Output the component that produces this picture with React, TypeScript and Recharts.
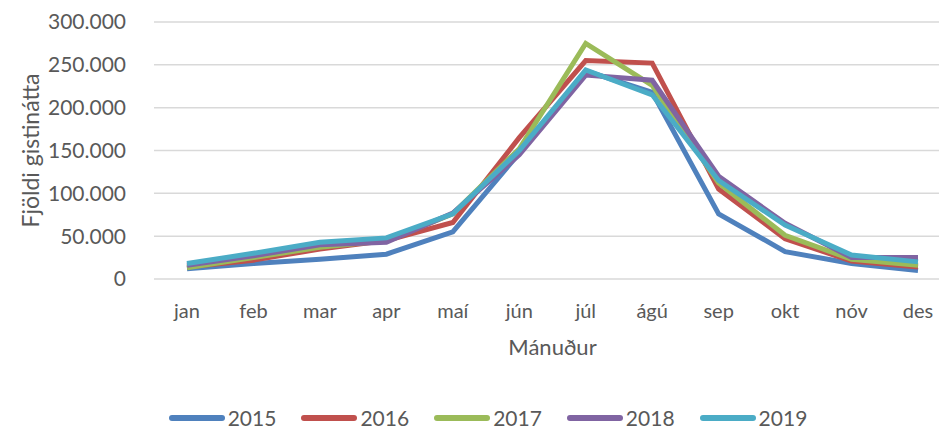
import { LineChart, Line, XAxis, YAxis, CartesianGrid, Legend } from 'recharts';

const months = ['jan', 'feb', 'mar', 'apr', 'maí', 'jún', 'júl', 'ágú', 'sep', 'okt', 'nóv', 'des'];

const y2015 = [12000, 18000, 23000, 29000, 55000, 147000, 243000, 218000, 76000, 32000, 18000, 10000];
const y2016 = [14000, 22000, 35000, 45000, 66000, 165000, 255000, 252000, 105000, 47000, 21000, 14000];
const y2017 = [13000, 25000, 37000, 45000, 76000, 152000, 275000, 226000, 112000, 51000, 23000, 16000];
const y2018 = [16000, 27000, 40000, 43000, 77000, 145000, 238000, 232000, 120000, 65000, 25000, 25000];
const y2019 = [18000, 30000, 43000, 48000, 76000, 150000, 244000, 215000, 115000, 63000, 28000, 20000];

const yTicks = [0, 50000, 100000, 150000, 200000, 250000, 300000];

const series = [
  { key: 'y2015', name: '2015', color: '#4F81BD' },
  { key: 'y2016', name: '2016', color: '#C0504D' },
  { key: 'y2017', name: '2017', color: '#9BBB59' },
  { key: 'y2018', name: '2018', color: '#8064A2' },
  { key: 'y2019', name: '2019', color: '#4BACC6' },
];

const chartData = months.map((m, i) => ({
  month: m,
  y2015: y2015[i],
  y2016: y2016[i],
  y2017: y2017[i],
  y2018: y2018[i],
  y2019: y2019[i],
}));

const FONT = 'Lato, "Open Sans", sans-serif';
const TEXT = '#595959';

function formatTick(v: number) {
  return v === 0 ? '0' : v.toLocaleString('de-DE');
}

function LegendContent({ payload }: any) {
  return (
    <div style={{ display: 'flex', justifyContent: 'center', paddingLeft: 37, fontFamily: FONT, fontSize: 21, lineHeight: '20px', height: 20, color: TEXT }}>
      {(payload || []).map((p: any, i: number) => (
        <div key={p.value} style={{ display: 'flex', alignItems: 'center', marginRight: i < 4 ? 25 : 0 }}>
          <svg width={56} height={10} style={{ marginRight: 3 }}>
            <line x1={3} y1={5} x2={53} y2={5} stroke={p.color} strokeWidth={6} strokeLinecap="round" />
          </svg>
          <span>{p.value}</span>
        </div>
      ))}
    </div>
  );
}

export default function App() {
  return (
    <div style={{ position: 'absolute', left: 0, top: 0, width: 939, height: 429, overflow: 'hidden', background: '#fff' }}>
      <LineChart width={960} height={429} data={chartData} margin={{ top: 22, right: 9, left: 0, bottom: 0 }}>
        <CartesianGrid vertical={false} stroke="#d9d9d9" strokeWidth={1.5} />
        <XAxis
          dataKey="month"
          axisLine={false}
          tickLine={false}
          padding={{ left: 33, right: 33 }}
          tick={{ fill: TEXT, fontSize: 20, fontFamily: FONT }}
          tickMargin={19}
          height={130}
          label={{ value: 'Mánuður', position: 'insideTop', offset: 60, fill: TEXT, fontSize: 22, fontFamily: FONT }}
        />
        <YAxis
          width={154}
          domain={[0, 300000]}
          ticks={yTicks}
          tickFormatter={formatTick}
          axisLine={false}
          tickLine={false}
          tickMargin={22}
          tick={{ fill: TEXT, fontSize: 21, fontFamily: FONT }}
          label={{ value: 'Fjöldi gistinátta', angle: -90, position: 'insideLeft', offset: 31, fill: TEXT, fontSize: 23, fontFamily: FONT, style: { textAnchor: 'middle' } }}
        />
        <Legend content={<LegendContent />} wrapperStyle={{ top: 408, left: 0, width: 939 }} />
        {series.map((s) => (
          <Line
            key={s.key}
            type="linear"
            dataKey={s.key}
            name={s.name}
            stroke={s.color}
            strokeWidth={5}
            dot={false}
            isAnimationActive={false}
          />
        ))}
      </LineChart>
    </div>
  );
}
